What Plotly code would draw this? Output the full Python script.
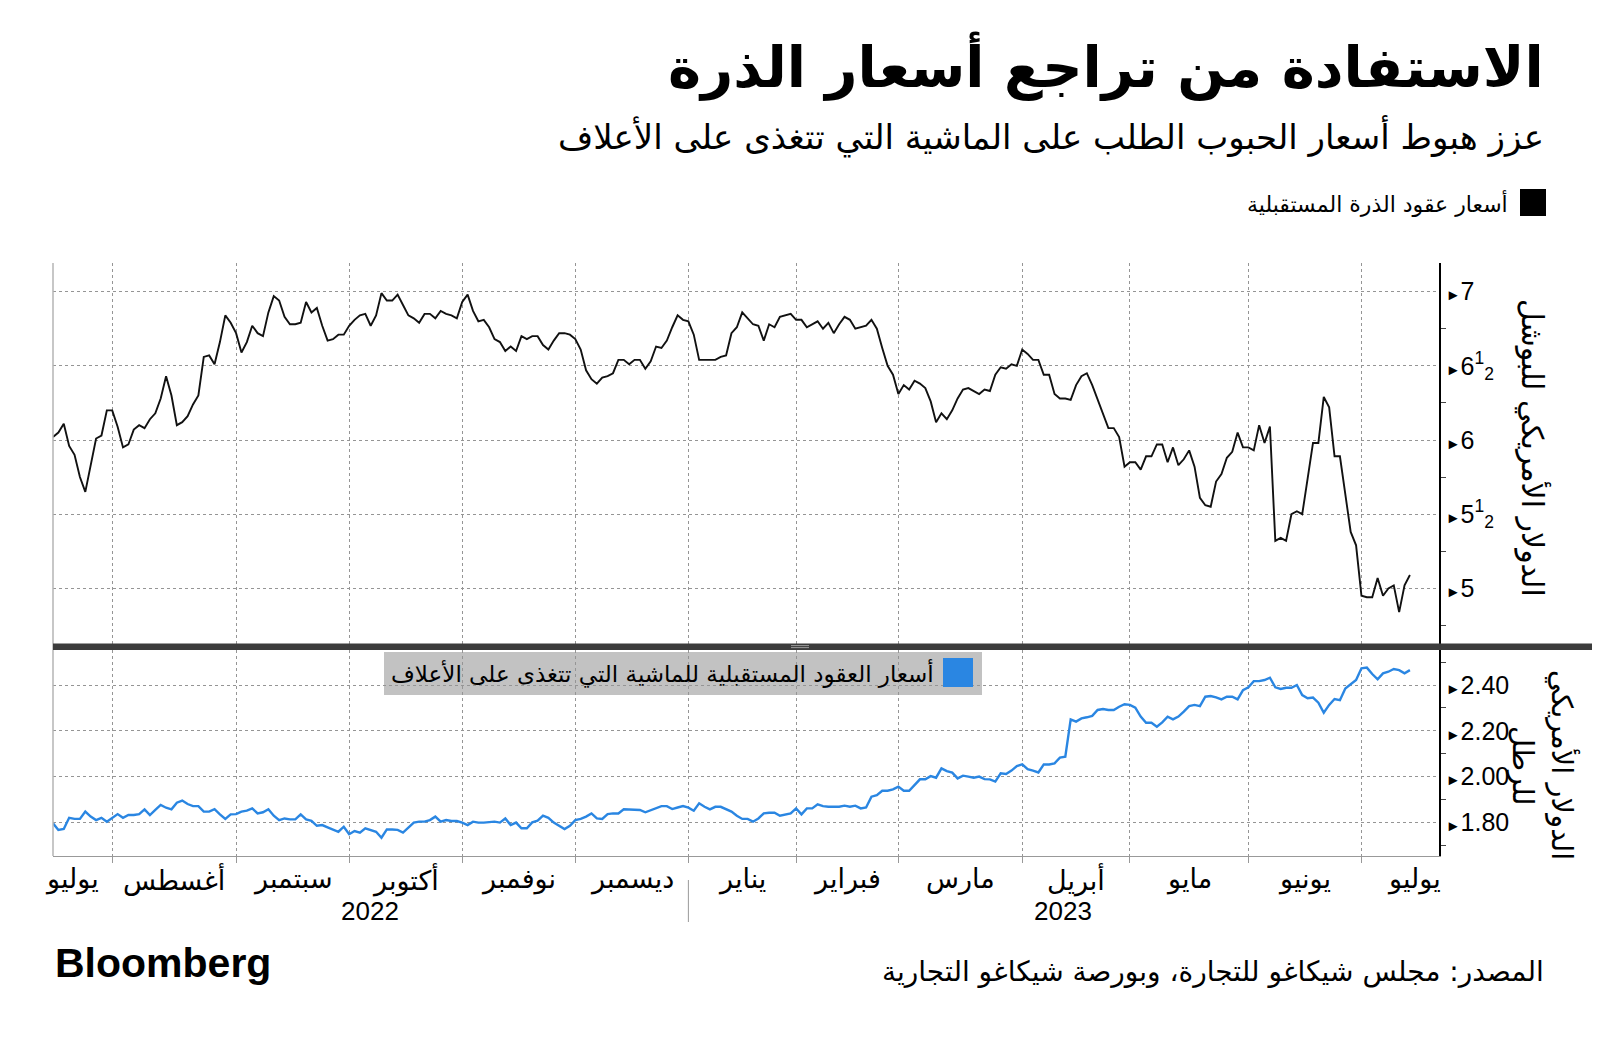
import pandas as pd
import plotly.graph_objects as go

# ---------------- data ----------------
holidays = ["2022-09-05", "2022-11-24", "2022-12-26", "2023-01-02", "2023-01-16",
            "2023-02-20", "2023-05-29", "2023-06-19", "2023-07-04"]
dates = [d for d in pd.bdate_range("2022-07-15", "2023-07-17")
         if d.strftime("%Y-%m-%d") not in holidays]

corn = [
    6.02, 6.05, 6.11, 5.96, 5.90, 5.75, 5.65, 5.84, 6.01, 6.03,
    6.20, 6.20, 6.09, 5.95, 5.97, 6.07, 6.10, 6.08, 6.14, 6.18,
    6.28, 6.43, 6.30, 6.10, 6.12, 6.16, 6.24, 6.30, 6.56, 6.57,
    6.51, 6.66, 6.84, 6.79, 6.72, 6.59, 6.66, 6.77, 6.72, 6.70,
    6.86, 6.97, 6.94, 6.83, 6.78, 6.78, 6.79, 6.93, 6.86, 6.89,
    6.77, 6.67, 6.68, 6.71, 6.71, 6.77, 6.81, 6.84, 6.85, 6.77,
    6.84, 6.99, 6.94, 6.94, 6.98, 6.91, 6.84, 6.82, 6.79, 6.85,
    6.85, 6.82, 6.87, 6.85, 6.84, 6.82, 6.93, 6.98, 6.87, 6.80,
    6.81, 6.76, 6.68, 6.66, 6.60, 6.63, 6.60, 6.70, 6.68, 6.70,
    6.70, 6.64, 6.61, 6.67, 6.72, 6.72, 6.71, 6.68, 6.61, 6.47,
    6.41, 6.38, 6.42, 6.43, 6.45, 6.54, 6.54, 6.51, 6.54, 6.54,
    6.48, 6.53, 6.63, 6.62, 6.67, 6.76, 6.84, 6.81, 6.80, 6.71,
    6.54, 6.54, 6.54, 6.54, 6.56, 6.57, 6.72, 6.76, 6.86, 6.82,
    6.78, 6.77, 6.67, 6.78, 6.76, 6.83, 6.84, 6.85, 6.81, 6.81,
    6.76, 6.78, 6.80, 6.75, 6.79, 6.72, 6.78, 6.83, 6.81, 6.75,
    6.76, 6.77, 6.81, 6.75, 6.62, 6.50, 6.44, 6.31, 6.37, 6.34,
    6.40, 6.38, 6.35, 6.26, 6.12, 6.18, 6.14, 6.20, 6.28, 6.34,
    6.35, 6.33, 6.31, 6.34, 6.33, 6.44, 6.49, 6.48, 6.51, 6.50,
    6.61, 6.58, 6.54, 6.54, 6.44, 6.44, 6.31, 6.28, 6.28, 6.27,
    6.37, 6.43, 6.45, 6.37, 6.27, 6.18, 6.08, 6.08, 6.02, 5.82,
    5.85, 5.85, 5.80, 5.89, 5.89, 5.97, 5.97, 5.85, 5.95, 5.83,
    5.87, 5.93, 5.82, 5.61, 5.56, 5.55, 5.72, 5.77, 5.88, 5.92,
    6.05, 5.95, 5.95, 5.93, 6.10, 5.98, 6.09, 5.32, 5.34, 5.32,
    5.50, 5.52, 5.50, 5.74, 5.98, 5.98, 6.29, 6.22, 5.89, 5.89,
    5.63, 5.38, 5.29, 4.95, 4.94, 4.94, 5.07, 4.95, 5.00, 5.02,
    4.84, 5.02, 5.09,
]

cattle = [
    1.796, 1.767, 1.771, 1.820, 1.815, 1.815, 1.847, 1.825, 1.810, 1.820,
    1.803, 1.820, 1.836, 1.820, 1.832, 1.832, 1.836, 1.857, 1.832, 1.854,
    1.876, 1.864, 1.857, 1.886, 1.895, 1.880, 1.871, 1.871, 1.847, 1.847,
    1.858, 1.835, 1.815, 1.835, 1.836, 1.847, 1.851, 1.861, 1.839, 1.844,
    1.857, 1.829, 1.810, 1.817, 1.813, 1.813, 1.835, 1.813, 1.807, 1.785,
    1.788, 1.778, 1.769, 1.759, 1.781, 1.748, 1.762, 1.755, 1.774, 1.767,
    1.759, 1.733, 1.769, 1.769, 1.767, 1.755, 1.778, 1.799, 1.803, 1.803,
    1.810, 1.825, 1.803, 1.810, 1.806, 1.806, 1.799, 1.788, 1.803, 1.799,
    1.799, 1.800, 1.803, 1.799, 1.817, 1.788, 1.799, 1.774, 1.774, 1.800,
    1.807, 1.829, 1.820, 1.799, 1.785, 1.771, 1.785, 1.810, 1.815, 1.825,
    1.839, 1.817, 1.815, 1.836, 1.839, 1.839, 1.857, 1.857, 1.854, 1.854,
    1.844, 1.854, 1.861, 1.871, 1.871, 1.858, 1.865, 1.871, 1.864, 1.851,
    1.883, 1.868, 1.857, 1.868, 1.868, 1.857, 1.847, 1.829, 1.815, 1.815,
    1.803, 1.817, 1.839, 1.842, 1.842, 1.829, 1.835, 1.839, 1.861, 1.835,
    1.861, 1.861, 1.879, 1.871, 1.868, 1.868, 1.868, 1.873, 1.868, 1.873,
    1.861, 1.865, 1.912, 1.919, 1.938, 1.938, 1.944, 1.956, 1.938, 1.938,
    1.963, 1.988, 1.988, 2.002, 1.995, 2.036, 2.024, 2.017, 1.992, 2.004,
    2.000, 1.995, 2.000, 1.989, 1.988, 1.978, 2.014, 2.011, 2.026, 2.046,
    2.053, 2.032, 2.026, 2.018, 2.053, 2.053, 2.058, 2.083, 2.087, 2.250,
    2.240, 2.254, 2.259, 2.265, 2.291, 2.295, 2.291, 2.291, 2.305, 2.316,
    2.313, 2.301, 2.262, 2.235, 2.235, 2.218, 2.237, 2.262, 2.250, 2.262,
    2.284, 2.308, 2.313, 2.308, 2.349, 2.352, 2.346, 2.337, 2.349, 2.349,
    2.337, 2.378, 2.390, 2.417, 2.417, 2.422, 2.432, 2.390, 2.383, 2.388,
    2.388, 2.400, 2.356, 2.342, 2.345, 2.323, 2.279, 2.313, 2.339, 2.334,
    2.385, 2.403, 2.422, 2.473, 2.476, 2.448, 2.425, 2.451, 2.458, 2.470,
    2.465, 2.451, 2.465,
]

month_starts = ["2022-08-01", "2022-09-01", "2022-10-03", "2022-11-01", "2022-12-01",
                "2023-01-03", "2023-02-01", "2023-03-01", "2023-04-03", "2023-05-01",
                "2023-06-01", "2023-07-03"]
month_names = ["يوليو", "أغسطس", "سبتمبر", "أكتوبر", "نوفمبر", "ديسمبر", "يناير",
               "فبراير", "مارس", "أبريل", "مايو", "يونيو", "يوليو"]
month_label_dates = ["2022-07-20 12:00", "2022-08-16 12:00", "2022-09-16 12:00",
                     "2022-10-17 12:00", "2022-11-15 12:00", "2022-12-15 12:00",
                     "2023-01-18", "2023-02-14 12:00", "2023-03-16 12:00",
                     "2023-04-17", "2023-05-16", "2023-06-15 12:00", "2023-07-17 17:00"]
years = ["2022", "2023"]
year_label_dates = ["2022-10-06 21:00", "2023-04-12 14:00"]
year_divider = "2023-01-03"

corn_ticks = [5, 5.5, 6, 6.5, 7]
corn_ticktext = ["5", "5<sup>1</sup><sub>2</sub>", "6", "6<sup>1</sup><sub>2</sub>", "7"]
corn_minor = [4.75, 5.25, 5.75, 6.25, 6.75]
cattle_ticks = [1.8, 2.0, 2.2, 2.4]
cattle_ticktext = ["1.80", "2.00", "2.20", "2.40"]
cattle_minor = [1.7, 1.9, 2.1, 2.3, 2.5]

n = min(len(dates), len(corn), len(cattle))
dates, corn, cattle = dates[:n], corn[:n], cattle[:n]

# ---------------- geometry helpers (page pixel -> paper) ----------------
OFF = 8                      # default body margin of the html page
FW, FH = 1584, 1025          # figure size so that it fits inside the page
L, R, T, B = 53, 1439, 263, 856   # plot area in page pixels
def px(x):
    return (x - L) / (R - L)
def py(y):
    return (B - y) / (B - T)

AR = "DejaVu Sans, Noto Sans, sans-serif"
NUM = "Liberation Sans, Arial, sans-serif"
GRID = "#959595"
BLUE = "#2a86e2"

arrow = "<span style='font-size:15px'>►</span>"

fig = go.Figure()
fig.add_trace(go.Scatter(x=dates, y=corn, xaxis="x", yaxis="y", mode="lines",
                         line=dict(color="#111111", width=1.9), hoverinfo="skip",
                         showlegend=False))
fig.add_trace(go.Scatter(x=dates, y=cattle, xaxis="x2", yaxis="y2", mode="lines",
                         line=dict(color=BLUE, width=2.4), hoverinfo="skip",
                         showlegend=False))

rb = [dict(bounds=["sat", "mon"]), dict(values=holidays)]
xrange = ["2022-07-15", "2023-07-24 09:36"]
common_x = dict(range=xrange, rangebreaks=rb, tickmode="array", tickvals=month_starts,
                showgrid=True, gridcolor=GRID, griddash="dot", gridwidth=1,
                zeroline=False, showticklabels=False, fixedrange=True)

fig.update_layout(
    width=FW, height=FH,
    margin=dict(l=L - OFF, r=FW + OFF - R, t=T - OFF, b=FH + OFF - B),
    paper_bgcolor="white", plot_bgcolor="rgba(0,0,0,0)",
    xaxis=dict(**common_x, anchor="y", ticks="", matches="x2"),
    xaxis2=dict(**common_x, anchor="y2", ticks="outside", ticklen=6, tickcolor="#999999",
                showline=True, linecolor="#999999", linewidth=1),
    yaxis=dict(domain=[py(644), 1], range=[4.625, 7.193], side="right", anchor="x",
               tickmode="array", tickvals=corn_ticks,
               ticktext=[arrow + t for t in corn_ticktext],
               tickfont=dict(family=NUM, size=25, color="black"),
               showgrid=True, gridcolor=GRID, griddash="dot", gridwidth=1,
               showline=True, linecolor="black", linewidth=1.5, ticks="",
               minor=dict(tickvals=corn_minor, ticks="outside", ticklen=5,
                          tickcolor="#444444", showgrid=False),
               zeroline=False, fixedrange=True),
    yaxis2=dict(domain=[0, py(650)], range=[1.653, 2.553], side="right", anchor="x2",
                tickmode="array", tickvals=cattle_ticks,
                ticktext=[arrow + t for t in cattle_ticktext],
                tickfont=dict(family=NUM, size=25, color="black"),
                showgrid=True, gridcolor=GRID, griddash="dot", gridwidth=1,
                showline=True, linecolor="black", linewidth=1.5, ticks="",
                minor=dict(tickvals=cattle_minor, ticks="outside", ticklen=5,
                           tickcolor="#444444", showgrid=False),
                zeroline=False, fixedrange=True),
)

shapes = []
# left axis line
shapes.append(dict(type="line", xref="paper", yref="paper", x0=0, x1=0, y0=0, y1=1,
                   line=dict(color="#b4b4b4", width=1.5)))
# separator bar between panels
shapes.append(dict(type="rect", xref="paper", yref="paper", x0=0, x1=px(1600),
                   y0=py(650), y1=py(643.5), fillcolor="#3c3c3c", line=dict(width=0)))
for yy in (645.6, 647.6):
    shapes.append(dict(type="line", xref="paper", yref="paper", x0=px(791), x1=px(809),
                       y0=py(yy), y1=py(yy), line=dict(color="#9a9a9a", width=1)))
# lower legend box
shapes.append(dict(type="rect", xref="paper", yref="paper", x0=px(384), x1=px(982),
                   y0=py(695), y1=py(652), fillcolor="#c2c2c2", line=dict(width=0),
                   layer="below"))
shapes.append(dict(type="rect", xref="paper", yref="paper", x0=px(943), x1=px(973),
                   y0=py(687), y1=py(658), fillcolor=BLUE, line=dict(width=0)))
# upper legend square
shapes.append(dict(type="rect", xref="paper", yref="paper", x0=px(1520), x1=px(1546),
                   y0=py(216), y1=py(189), fillcolor="black", line=dict(width=0)))
# year divider
shapes.append(dict(type="line", xref="x2", yref="paper", x0=year_divider, x1=year_divider,
                   y0=py(880), y1=py(922), line=dict(color="#999999", width=1)))
fig.update_layout(shapes=shapes)

ann = []
def text(x, y, s, size, xanchor="right", yanchor="middle", family=AR, color="black",
         angle=0, xref="paper"):
    ann.append(dict(x=x, y=y, xref=xref, yref="paper", text=s, showarrow=False,
                    xanchor=xanchor, yanchor=yanchor, textangle=angle,
                    font=dict(family=family, size=size, color=color)))

text(px(1546), py(66), "<b>الاستفادة من تراجع أسعار الذرة</b>", 56)
text(px(1546), py(137), "عزز هبوط أسعار الحبوب الطلب على الماشية التي تتغذى على الأعلاف", 34)
text(px(1510), py(203), "أسعار عقود الذرة المستقبلية", 22)
text(px(936), py(673), "أسعار العقود المستقبلية للماشية التي تتغذى على الأعلاف", 23)
text(px(1533), py(448), "الدولار الأمريكي للبوشل", 30, xanchor="center", angle=90)
text(px(1563), py(765), "الدولار الأمريكي", 29, xanchor="center", angle=90)
text(px(1523), py(765), "للرطل", 29, xanchor="center", angle=90)
for d, s in zip(month_label_dates, month_names):
    text(d, py(879), s, 27, xanchor="center", xref="x2")
for d, s in zip(year_label_dates, years):
    text(d, py(911), s, 26, xanchor="center", xref="x2",
         family="Liberation Sans Narrow, Arial Narrow, sans-serif")
text(px(53), py(963), "<b>Bloomberg</b>", 41, xanchor="left", family=NUM)
text(px(1546), py(971), "المصدر: مجلس شيكاغو للتجارة، وبورصة شيكاغو التجارية", 28)
fig.update_layout(annotations=ann)

fig.write_html("out.html")
